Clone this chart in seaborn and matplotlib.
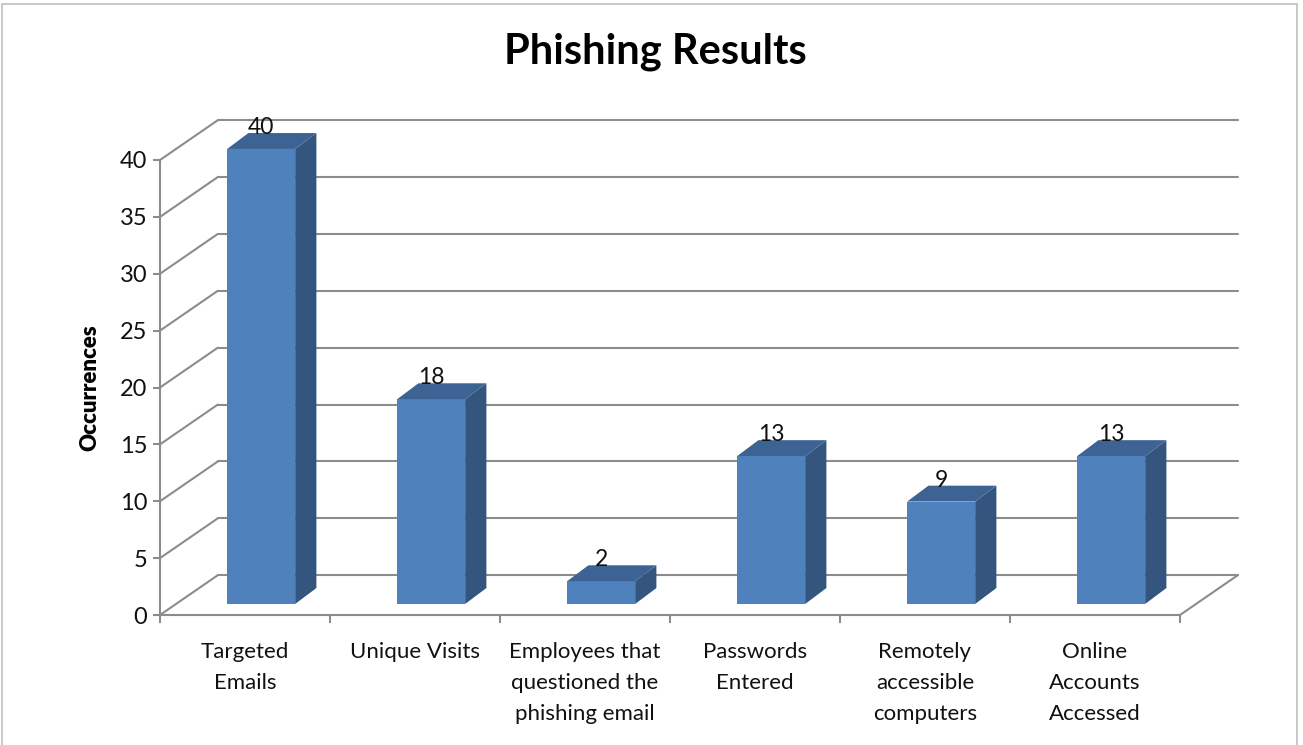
import matplotlib
matplotlib.use("Agg")
import matplotlib.pyplot as plt
import matplotlib.patches as mpatches
import seaborn as sns
import pandas as pd

# chart data
categories = ["Targeted\nEmails", "Unique Visits", "Employees that\nquestioned the\nphishing email",
              "Passwords\nEntered", "Remotely\naccessible\ncomputers", "Online\nAccounts\nAccessed"]
occurrences = [40, 18, 2, 13, 9, 13]
y_ticks = [0, 5, 10, 15, 20, 25, 30, 35, 40]

df = pd.DataFrame({"Category": categories, "Occurrences": occurrences})

sns.set_theme(style="white")
plt.rcParams["font.family"] = ["Lato", "DejaVu Sans"]

front_col = "#4F81BD"
side_col = "#34557E"
top_col = "#3D6394"
grid_col = "#8C8C8C"
text_col = "#111111"

# oblique depth of the plot box (data units) and of the bars
wall_dx, wall_dy = 0.34, 3.5
bar_dx, bar_dy = 0.095, 0.97
depth_dx, depth_dy = 0.125, 1.4

fig = plt.figure(figsize=(13.03, 7.45), dpi=100)
ax = fig.add_axes([160 / 1303, 130 / 745, 1020 / 1303, 455 / 745])

sns.barplot(data=df, x="Category", y="Occurrences", color=front_col, width=0.4,
            saturation=1, ax=ax, zorder=3)
ax.set_xlim(-0.5, len(categories) - 0.5)
ax.set_ylim(0, 40)

# back wall, side wall and floor lines
x0, x1 = -0.5, len(categories) - 0.5
for v in y_ticks:
    ax.plot([x0 + wall_dx, x1 + wall_dx], [v + wall_dy, v + wall_dy], color=grid_col,
            lw=1.5, clip_on=False, zorder=1)
    ax.plot([x0, x0 + wall_dx], [v, v + wall_dy], color=grid_col, lw=1.5, clip_on=False, zorder=1)
ax.plot([x1, x1 + wall_dx], [0, wall_dy], color=grid_col, lw=1.5, clip_on=False, zorder=1)

# give the bars their 3D look
for p, val in zip(ax.patches, occurrences):
    p.set_x(p.get_x() + bar_dx)
    p.set_y(bar_dy)
    p.set_edgecolor("none")
    p.set_clip_on(False)
    bx, bw = p.get_x(), p.get_width()
    top = bar_dy + val
    side = mpatches.Polygon([(bx + bw, bar_dy), (bx + bw, top), (bx + bw + depth_dx, top + depth_dy),
                             (bx + bw + depth_dx, bar_dy + depth_dy)], closed=True,
                            facecolor=side_col, edgecolor="none", zorder=3, clip_on=False)
    lid = mpatches.Polygon([(bx, top), (bx + bw, top), (bx + bw + depth_dx, top + depth_dy),
                            (bx + depth_dx, top + depth_dy)], closed=True,
                           facecolor=top_col, edgecolor="none", zorder=3, clip_on=False)
    ax.add_patch(side)
    ax.add_patch(lid)
    ax.text(bx + bw / 2, top + depth_dy - 0.45, str(val), ha="center", va="bottom",
            fontsize=16.5, color=text_col, zorder=4, clip_on=False)

for s in ["top", "right"]:
    ax.spines[s].set_visible(False)
for s in ["left", "bottom"]:
    ax.spines[s].set_color(grid_col)
    ax.spines[s].set_linewidth(1.5)

ax.set_yticks(y_ticks)
ax.set_xticks(range(len(categories)))
ax.set_xticks([i - 0.5 for i in range(len(categories) + 1)], minor=True)
ax.tick_params(axis="y", which="major", length=5, width=1.5, color=grid_col, labelsize=17,
               labelcolor=text_col, left=True, pad=4)
ax.tick_params(axis="x", which="major", length=0, labelsize=16, labelcolor=text_col, pad=19.5)
ax.tick_params(axis="x", which="minor", length=6, width=1.5, color=grid_col, bottom=True)
for lbl in ax.get_xticklabels():
    lbl.set_linespacing(1.68)
ax.set_xlabel("")
ax.set_ylabel("Occurrences", fontsize=16, fontweight="heavy", color="black", labelpad=14)
ax.patch.set_alpha(0)

fig.text(655 / 1303, 1 - 52 / 745, "Phishing Results", ha="center", va="center",
         fontsize=30, fontweight="bold", color="black")
fig.patches.append(mpatches.Rectangle((2 / 1303, -0.01), 1295 / 1303, 1 - 4 / 745 + 0.01,
                                      transform=fig.transFigure, fill=False,
                                      edgecolor="#BFBFBF", lw=1.2))

fig.savefig("out.png", dpi=100)
